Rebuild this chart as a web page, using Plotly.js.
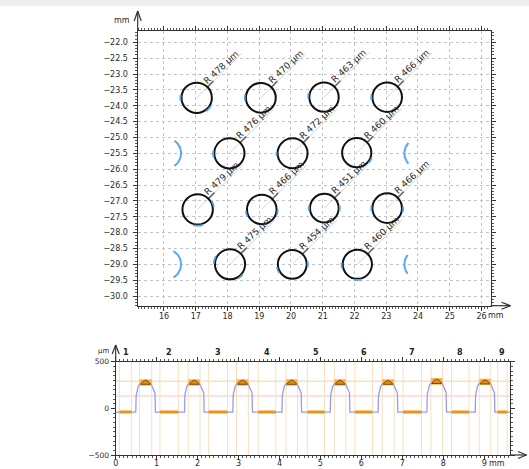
<!DOCTYPE html>
<html><head><meta charset="utf-8">
<script src="https://cdn.plot.ly/plotly-3.0.1.min.js"></script>
<style>html,body{margin:0;padding:0;background:#fff;overflow:hidden}#chart{width:529px;height:469px}</style>
</head><body><div id="chart"></div>
<script>
// ================= TOP CHART DATA (hole pattern, mm) =================
const holeX = [17.03,19.05,21.04,23.03, 18.06,20.05,22.07, 17.06,19.08,21.05,23.03, 18.08,20.04,22.09];
const holeY = [-23.75,-23.75,-23.73,-23.73, -25.50,-25.50,-25.48, -27.27,-27.27,-27.23,-27.23, -29.00,-29.00,-29.00];
const holeR_um = [478,470,463,466, 476,472,460, 479,466,451,466, 475,454,460];
// partial holes at the edges (blue arcs): centre, radius (mm), start / end angle (deg)
const edgeArcX  = [16.06,16.06,24.05,24.05];
const edgeArcY  = [-25.50,-29.00,-25.50,-29.00];
const edgeArcR  = [0.48,0.48,0.48,0.48];
const edgeArcA0 = [-56,-60,137,142];
const edgeArcA1 = [56,60,223,218];
// blue measured-contour fragments visible beside fitted circles: hole index, start / end angle (deg)
const fragHole = [0,0,1,2,3,4,5,6,7,7,8,8,9,9,10,10,11,11,12,12,13,13];
const fragA0   = [170,305,170,165,170,170,175,320,255,10,185,340,170,350,170,345,150,300,190,350,255,175];
const fragA1   = [190,330,190,185,190,195,190,345,290,30,205,360,190,370,190,365,178,320,215,370,285,195];

// ================= BOTTOM CHART DATA (profile) =================
const profX = [0.00,
 0.49,0.50,0.52,0.55,0.59,0.65,0.73,0.80,0.86,0.90,0.93,0.96,0.97,
 1.68,1.69,1.71,1.74,1.78,1.84,1.92,1.99,2.05,2.09,2.12,2.15,2.16,
 2.86,2.87,2.89,2.92,2.96,3.02,3.10,3.17,3.23,3.27,3.30,3.33,3.34,
 4.06,4.07,4.09,4.12,4.16,4.22,4.30,4.37,4.43,4.47,4.50,4.53,4.54,
 5.24,5.25,5.27,5.30,5.34,5.40,5.48,5.55,5.61,5.65,5.68,5.71,5.72,
 6.41,6.42,6.44,6.47,6.51,6.57,6.65,6.72,6.78,6.82,6.85,6.88,6.89,
 7.60,7.61,7.63,7.66,7.70,7.76,7.84,7.91,7.97,8.01,8.04,8.07,8.08,
 8.78,8.79,8.81,8.84,8.88,8.94,9.02,9.09,9.15,9.19,9.22,9.25,9.26,
 9.63];
const profY = [-40,
 -40,140,195,235,265,292,302,294,265,225,200,165,-40,
 -40,145,198,238,268,294,303,295,266,228,202,168,-40,
 -40,142,196,236,266,293,302,294,265,226,201,166,-40,
 -40,143,197,237,267,294,304,296,266,227,200,165,-40,
 -40,141,195,236,266,293,302,294,265,224,199,166,-40,
 -40,140,194,234,264,291,300,292,263,224,198,164,-40,
 -40,146,200,242,274,300,312,303,272,230,204,170,-40,
 -40,144,198,239,269,295,305,297,267,227,201,167,-40,
 -40];
const segStart = [0.09,1.08,2.27,3.48,4.68,5.84,7.02,8.20,9.33];
const segEnd   = [0.39,1.53,2.73,3.91,5.10,6.27,7.47,8.63,9.56];
const segLevel = [-38,-38,-38,-38,-38,-38,-38,-38,-38];
const segLabel = ['1','2','3','4','5','6','7','8','9'];
const bumpCenter = [0.73,1.92,3.10,4.30,5.48,6.65,7.84,9.02];
const rectStart  = [0.58,1.77,2.95,4.16,5.34,6.51,7.70,8.88];
const rectEnd    = [0.88,2.06,3.24,4.44,5.62,6.80,7.98,9.16];
const rectLow    = [242,242,242,242,242,245,252,250];
const rectHigh   = [312,312,312,312,312,312,326,318];
const domeHalf   = [0.12,0.12,0.12,0.12,0.12,0.12,0.12,0.12];
const domeBase   = [258,258,258,258,258,258,266,262];
const domeTop    = [300,300,301,301,300,299,312,304];
const refLevelA = 292, refLevelB = 132;

// ================= BUILD =================
const W = 529, H = 469;
const px = v => v / W, py = v => 1 - v / H;
const traces = [], shapes = [], ann = [];
const TXT = '#2a2a2a';

function arcPts(cx, cy, r, a0, a1) {
  const xs = [], ys = [];
  for (let a = a0; a <= a1 + 0.01; a += 2) {
    const t = a * Math.PI / 180;
    xs.push(cx + r * Math.cos(t)); ys.push(cy + r * Math.sin(t));
  }
  return [xs, ys];
}
edgeArcX.forEach((cx, i) => {
  const [xs, ys] = arcPts(cx, edgeArcY[i], edgeArcR[i], edgeArcA0[i], edgeArcA1[i]);
  traces.push({x: xs, y: ys, xaxis: 'x', yaxis: 'y', mode: 'lines', line: {color: '#5aa9ef', width: 2}, hoverinfo: 'skip', showlegend: false});
});
const d = 0.7071;
holeX.forEach((cx, i) => {
  const cy = holeY[i], r = holeR_um[i] / 1000;
  shapes.push({type: 'line', xref: 'x', yref: 'y', x0: cx, y0: cy, x1: cx + 1.42, y1: cy + 1.40, line: {color: '#d4d4d4', width: 1}, layer: 'above'});
  shapes.push({type: 'line', xref: 'x', yref: 'y', x0: cx + r * d, y0: cy + r * d, x1: cx + (r + 0.27) * d, y1: cy + (r + 0.27) * d, line: {color: '#666', width: 1.6}, layer: 'above'});
  shapes.push({type: 'circle', xref: 'x', yref: 'y', x0: cx - r, x1: cx + r, y0: cy - r, y1: cy + r, line: {color: '#111', width: 2}, layer: 'above'});
  ann.push({xref: 'x', yref: 'y', x: cx + 0.78, y: cy + 0.98, text: 'R ' + holeR_um[i] + ' µm', showarrow: false, textangle: -43, xanchor: 'center', yanchor: 'middle', font: {size: 9, color: TXT}});
});
fragHole.forEach((h, i) => {
  const r = holeR_um[h] / 1000 + 0.035;
  const [xs, ys] = arcPts(holeX[h], holeY[h], r, fragA0[i], fragA1[i]);
  let p = 'M' + xs[0] + ',' + ys[0];
  for (let k = 1; k < xs.length; k++) p += ' L' + xs[k] + ',' + ys[k];
  shapes.push({type: 'path', xref: 'x', yref: 'y', path: p, line: {color: '#4aa3f0', width: 1.8}, layer: 'above'});
});

// bottom chart
traces.push({x: profX, y: profY, xaxis: 'x2', yaxis: 'y2', mode: 'lines', line: {color: '#9a9af0', width: 1.3}, hoverinfo: 'skip', showlegend: false});
[...segStart, ...segEnd, ...rectStart, ...rectEnd].forEach(v => {
  shapes.push({type: 'line', xref: 'x2', yref: 'y2', x0: v, x1: v, y0: -500, y1: 500, line: {color: '#f7e1bd', width: 1}, layer: 'below'});
});
shapes.push({type: 'line', xref: 'x2 domain', yref: 'y2', x0: 0, x1: 1, y0: refLevelA, y1: refLevelA, line: {color: '#f3d2a8', width: 1}, layer: 'below'});
shapes.push({type: 'line', xref: 'x2 domain', yref: 'y2', x0: 0, x1: 1, y0: refLevelB, y1: refLevelB, line: {color: '#f2c6c6', width: 1}, layer: 'below'});
segStart.forEach((s, i) => {
  shapes.push({type: 'line', xref: 'x2', yref: 'y2', x0: s, x1: segEnd[i], y0: segLevel[i], y1: segLevel[i], line: {color: '#ec9416', width: 3}, layer: 'above'});
  ann.push({xref: 'x2', yref: 'paper', x: (s + segEnd[i]) / 2, y: py(352), text: '<b>' + segLabel[i] + '</b>', showarrow: false, xanchor: 'center', yanchor: 'middle', font: {size: 8, color: '#222'}});
});
bumpCenter.forEach((c, i) => {
  shapes.push({type: 'rect', xref: 'x2', yref: 'y2', x0: rectStart[i], x1: rectEnd[i], y0: rectLow[i], y1: rectHigh[i], fillcolor: '#f8b03c', opacity: 0.9, line: {width: 0}, layer: 'above'});
  const b = domeBase[i], ctrl = 2 * domeTop[i] - b;
  shapes.push({type: 'path', xref: 'x2', yref: 'y2', path: `M${c - domeHalf[i]},${b} Q${c},${ctrl} ${c + domeHalf[i]},${b} Z`, fillcolor: '#ea8c10', line: {color: '#7c4c12', width: 1}, layer: 'above'});
});

// axis arrows (paper coords)
function seg(x0, y0, x1, y1, col) { shapes.push({type: 'line', xref: 'paper', yref: 'paper', x0: px(x0), y0: py(y0), x1: px(x1), y1: py(y1), line: {color: col || '#333', width: 1.2}, layer: 'above'}); }
seg(137.7, 31, 137.7, 11); seg(137.7, 11, 134.2, 21); seg(137.7, 11, 141.2, 21);
seg(490.7, 305.7, 510.5, 305.7); seg(510.5, 305.7, 501.5, 302.2); seg(510.5, 305.7, 501.5, 309.2);
seg(115.7, 361.7, 115.7, 345); seg(115.7, 345, 112.2, 354); seg(115.7, 345, 119.2, 354);
seg(510, 455, 526.5, 455); seg(526.5, 455, 518, 451.5); seg(526.5, 455, 518, 458.5);
shapes.push({type: 'rect', xref: 'paper', yref: 'paper', x0: 0, x1: 1, y0: py(6), y1: 1, fillcolor: '#efefef', line: {width: 0}, layer: 'below'});

function lab(x, y, t, s) { ann.push({xref: 'paper', yref: 'paper', x: px(x), y: py(y), text: t, showarrow: false, xanchor: 'center', yanchor: 'middle', font: {size: s, color: TXT}}); }
lab(122, 20.5, 'mm', 8);
lab(496, 315.7, 'mm', 8);
lab(103, 350.5, 'µm', 7);
lab(497, 463, 'mm', 8);

const axCommon = {showline: true, linecolor: '#333', linewidth: 1.2, mirror: 'allticks', ticks: 'outside', ticklen: 4, tickcolor: '#333', zeroline: false, tickfont: {size: 8, color: TXT}};
const layout = {
  width: W, height: H, margin: {l: 0, r: 0, t: 0, b: 0}, paper_bgcolor: '#fff', plot_bgcolor: '#fff',
  font: {family: 'DejaVu Sans, Verdana, sans-serif', size: 8, color: TXT},
  showlegend: false,
  xaxis: Object.assign({}, axCommon, {domain: [px(137.7), px(490.7)], anchor: 'y', range: [15.172, 26.29], dtick: 1, tick0: 16,
    showgrid: true, gridcolor: '#c4c4c4', griddash: 'dot', gridwidth: 1, ticklabelstandoff: -2,
    minor: {dtick: 0.1, ticklen: 2, tickcolor: '#555', showgrid: false}}),
  yaxis: Object.assign({}, axCommon, {domain: [py(305.7), py(31)], anchor: 'x', range: [-30.306, -21.644], dtick: 0.5, tick0: -22, tickformat: '.1f',
    showgrid: true, gridcolor: '#c4c4c4', griddash: 'dot', gridwidth: 1, ticklabelstandoff: 3,
    minor: {dtick: 0.1, ticklen: 2, tickcolor: '#555', showgrid: false}}),
  xaxis2: Object.assign({}, axCommon, {domain: [px(115.7), px(510)], anchor: 'y2', range: [0, 9.63], dtick: 1, tick0: 0, showgrid: false,
    ticklabelstandoff: -4,
    minor: {dtick: 0.1, ticklen: 2, tickcolor: '#555', showgrid: false}}),
  yaxis2: Object.assign({}, axCommon, {domain: [py(455), py(361.7)], anchor: 'x2', range: [-500, 500], tickvals: [-500, 0, 500], showgrid: false,
    tickfont: {size: 7.5, color: TXT},
    minor: {dtick: 50, ticklen: 2, tickcolor: '#555', showgrid: false}}),
  shapes: shapes, annotations: ann
};
Plotly.newPlot('chart', traces, layout, {displayModeBar: false, staticPlot: true});
</script></body></html>
